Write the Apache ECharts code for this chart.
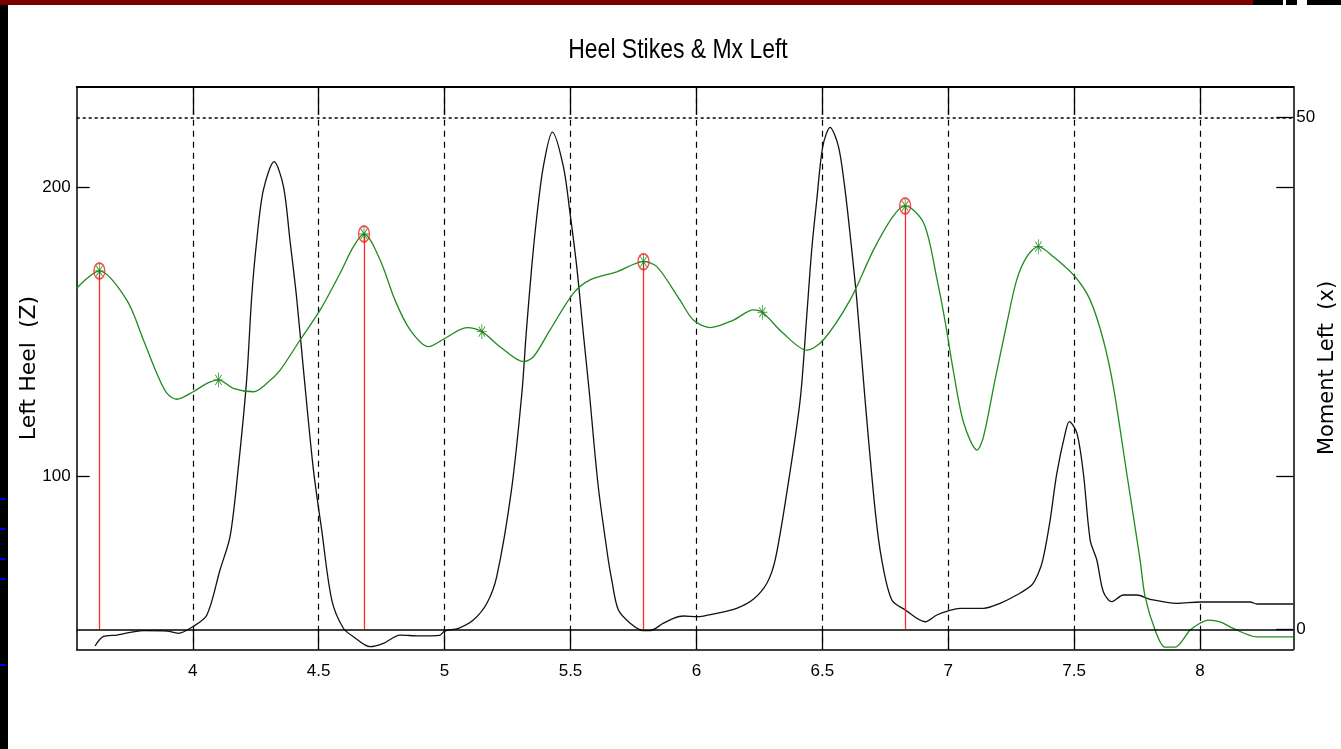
<!DOCTYPE html>
<html>
<head>
<meta charset="utf-8">
<script src="https://cdn.jsdelivr.net/npm/echarts@6/dist/echarts.min.js"></script>
<style>
html,body{margin:0;padding:0;background:#fff;}
#chart{width:1341px;height:749px;}
</style>
</head>
<body>
<div id="chart"></div>
<script>
// ---- data ----
const titleText = 'Heel Stikes & Mx Left';
const leftAxisName = 'Left Heel  (Z)';
const rightAxisName = 'Moment Left  (x)';
const xTicks = [4, 4.5, 5, 5.5, 6, 6.5, 7, 7.5, 8];
const leftTicks = [100, 200];
const rightTicks = [0, 50];

// Moment Left (x) — black curve, right axis
const momentT = [3.612,3.644,3.699,3.803,3.898,3.942,4.0,4.056,4.108,4.148,4.18,4.214,4.234,4.254,4.28,4.323,4.36,4.386,4.412,4.439,4.479,4.512,4.552,4.598,4.638,4.704,4.757,4.823,4.9,4.98,5.0,5.055,5.114,5.168,5.207,5.265,5.307,5.324,5.346,5.366,5.392,5.428,5.472,5.498,5.525,5.551,5.575,5.61,5.65,5.664,5.69,5.737,5.79,5.816,5.869,5.909,5.948,6.002,6.081,6.16,6.226,6.28,6.313,6.36,6.412,6.438,6.458,6.478,6.502,6.531,6.564,6.587,6.61,6.637,6.67,6.71,6.736,6.776,6.829,6.908,6.955,7.0,7.047,7.14,7.206,7.272,7.332,7.358,7.376,7.405,7.431,7.465,7.481,7.511,7.537,7.564,7.59,7.616,7.65,7.696,7.749,7.802,7.908,8.0,8.199,8.226,8.37];
const momentMx = [-1.63,-0.72,-0.56,-0.13,-0.17,-0.39,0.25,1.4,5.8,9.05,15.6,24.4,32.5,38.0,42.9,45.7,43.3,38.0,32.5,25.5,15.6,9.7,2.86,0.1,-0.72,-1.7,-1.37,-0.56,-0.65,-0.6,-0.17,0.1,0.9,2.54,5.14,13.5,23.1,28.9,35.4,40.3,45.2,48.6,45.2,40.7,35.4,28.9,23.1,14.0,6.8,4.8,1.9,0.6,-0.13,-0.13,0.6,1.07,1.3,1.23,1.56,2.05,2.93,4.5,6.8,13.5,22.4,30.55,37.1,41.96,47.2,49.06,47.2,43.6,38.7,32.2,22.4,11.6,6.8,2.86,1.9,0.74,1.4,1.8,2.05,2.05,2.54,3.35,4.33,5.47,6.8,10.7,15.2,19.2,20.3,19.2,15.2,8.7,6.8,3.67,2.7,3.35,3.35,2.93,2.54,2.67,2.67,2.47,2.47];

// Left Heel (Z) — green curve, left axis
const heelCurveT = [3.539,3.629,3.738,3.804,3.857,3.897,3.936,4.002,4.056,4.102,4.161,4.241,4.294,4.347,4.426,4.506,4.585,4.638,4.68,4.744,4.803,4.863,4.936,5.002,5.088,5.148,5.22,5.313,5.353,5.419,5.512,5.578,5.684,5.79,5.843,5.935,5.988,6.054,6.147,6.226,6.262,6.345,6.438,6.504,6.61,6.703,6.78,6.829,6.903,6.956,6.989,7.022,7.062,7.115,7.14,7.186,7.233,7.272,7.312,7.358,7.418,7.504,7.564,7.616,7.656,7.709,7.762,7.782,7.822,7.861,7.901,7.96,8.0,8.033,8.08,8.132,8.226,8.37];
const heelCurveZ = [165.2,171.2,161.1,147.3,135.8,128.9,126.8,129.4,132.3,133.5,130.6,129.4,132.3,136.9,147.3,157.7,170.4,179.6,184.0,175.0,161.1,150.8,145.0,147.9,151.6,150.2,145.0,139.8,141.5,150.8,163.5,168.1,170.9,174.4,172.7,161.1,154.2,151.6,154.2,157.7,156.9,149.6,143.8,147.3,161.1,178.4,190.0,193.7,187.7,168.1,153.1,135.8,118.5,109.2,113.8,133.5,153.1,168.1,176.1,179.6,176.1,169.2,161.1,147.3,131.1,101.2,71.2,58.5,46.9,41.0,41.0,46.9,49.3,50.4,49.8,47.5,44.6,44.6];

// Heel strikes (red circle + star + red stem)
const strikeT = [3.629, 4.68, 5.79, 6.829];
const strikeZ = [171.2, 184.0, 174.4, 193.7];
// Other detected points (star only)
const starT = [4.102, 5.148, 6.262, 7.358];
const starZ = [133.5, 150.2, 156.9, 179.6];

// ---- axis ranges (from picture) ----
const xMin = 3.539, xMax = 8.3705;
const lMin = 40.28, lMax = 234.95;
const rMin = -1.955, rMax = 53.03;
const stemBase = lMin + (0 - rMin) / (rMax - rMin) * (lMax - lMin); // right-axis zero in left units

const zip = (a, b) => a.map((v, i) => [v, b[i]]);
const sans = "'Liberation Sans', Arial, sans-serif";
const green = '#1c8c1c';
const starPath = 'path://M4.6,0 L5.4,0 L5.4,14 L4.6,14 Z M0,6.6 L10,6.6 L10,7.4 L0,7.4 Z M1.5,2.5 L2.2,2 L8.5,11.5 L7.8,12 Z M2.2,12 L1.5,11.5 L7.8,2 L8.5,2.5 Z';

const chart = echarts.init(document.getElementById('chart'), null, {renderer: 'canvas'});
const axisFont = {fontFamily: sans, fontSize: 17, color: '#000'};

chart.setOption({
  backgroundColor: '#fff',
  animation: false,
  grid: {left: 76.7, right: 47.7, top: 86.7, bottom: 99.7, containLabel: false, outerBoundsMode: 'none'},
  xAxis: [{
    type: 'value', position: 'bottom', min: xMin, max: xMax,
    axisLine: {show: true, onZero: false, lineStyle: {color: '#000', width: 1.5}},
    axisTick: {show: true, inside: true, length: 20, customValues: xTicks, lineStyle: {color: '#000', width: 1.3}},
    axisLabel: Object.assign({customValues: xTicks, margin: 14, formatter: v => String(v)}, axisFont),
    splitLine: {show: true, lineStyle: {color: '#000', type: [6, 5], width: 1.2}}
  }, {
    type: 'value', position: 'top', min: xMin, max: xMax,
    axisLine: {show: true, onZero: false, lineStyle: {color: '#000', width: 1.8}},
    axisTick: {show: true, inside: true, length: 28, customValues: xTicks, lineStyle: {color: '#000', width: 1.3}},
    axisLabel: {show: false},
    splitLine: {show: false}
  }],
  yAxis: [{
    type: 'value', position: 'left', min: lMin, max: lMax,
    name: leftAxisName, nameLocation: 'middle', nameRotate: 90, nameGap: 36, nameMoveOverlap: false,
    nameTextStyle: {fontFamily: 'DejaVu Sans', fontSize: 22, color: '#000'},
    axisLine: {show: true, onZero: false, lineStyle: {color: '#000', width: 1.5}},
    axisTick: {show: true, inside: true, length: 13, customValues: leftTicks, lineStyle: {color: '#000', width: 1.3}},
    axisLabel: Object.assign({customValues: leftTicks, margin: 6}, axisFont),
    splitLine: {show: false}
  }, {
    type: 'value', position: 'right', min: rMin, max: rMax,
    name: rightAxisName, nameLocation: 'middle', nameRotate: 90, nameGap: 24, nameMoveOverlap: false,
    nameTextStyle: {fontFamily: 'DejaVu Sans', fontSize: 21, color: '#000'},
    axisLine: {show: true, onZero: false, lineStyle: {color: '#000', width: 1.5}},
    axisTick: {show: true, inside: true, length: 17, customValues: rightTicks, lineStyle: {color: '#000', width: 1.3}},
    axisLabel: Object.assign({customValues: rightTicks, margin: 3}, axisFont),
    splitLine: {show: false}
  }, {
    type: 'value', position: 'right', min: lMin, max: lMax,
    axisLine: {show: false},
    axisTick: {show: true, inside: true, length: 17, customValues: leftTicks, lineStyle: {color: '#000', width: 1.3}},
    axisLabel: {show: false},
    splitLine: {show: false}
  }],
  graphic: [
    {type: 'text', x: 678, y: 50, scaleX: 0.82, z: 100,
     style: {text: titleText, fontFamily: sans, fontSize: 28, fill: '#000', align: 'center', verticalAlign: 'middle'}},
    {type: 'rect', shape: {x: 0, y: 0, width: 1253, height: 5}, style: {fill: '#7a0000'}, z: 100},
    {type: 'rect', shape: {x: 1253, y: 0, width: 30, height: 5}, style: {fill: '#000'}, z: 100},
    {type: 'rect', shape: {x: 1286, y: 0, width: 11, height: 5}, style: {fill: '#000'}, z: 100},
    {type: 'rect', shape: {x: 1307, y: 0, width: 34, height: 5}, style: {fill: '#000'}, z: 100},
    {type: 'rect', shape: {x: 0, y: 5, width: 8, height: 744}, style: {fill: '#000'}, z: 100},
    {type: 'rect', shape: {x: 0, y: 498, width: 6, height: 2}, style: {fill: '#0000ee'}, z: 101},
    {type: 'rect', shape: {x: 0, y: 528, width: 6, height: 2}, style: {fill: '#0000ee'}, z: 101},
    {type: 'rect', shape: {x: 0, y: 558, width: 6, height: 2}, style: {fill: '#0000ee'}, z: 101},
    {type: 'rect', shape: {x: 0, y: 578, width: 6, height: 2}, style: {fill: '#0000ee'}, z: 101},
    {type: 'rect', shape: {x: 0, y: 664, width: 6, height: 2}, style: {fill: '#0000ee'}, z: 101}
  ],
  series: [{
    name: 'Moment Left', type: 'line', xAxisIndex: 0, yAxisIndex: 1,
    data: zip(momentT, momentMx), smooth: 0.3, showSymbol: false,
    lineStyle: {color: '#111', width: 1.3}, z: 3,
    markLine: {
      silent: true, symbol: 'none', label: {show: false}, animation: false,
      data: [
        {yAxis: rightTicks[0], lineStyle: {color: '#000', width: 1.5, type: 'solid'}},
        {yAxis: rightTicks[1], lineStyle: {color: '#000', width: 1.5, type: [3, 3]}}
      ]
    }
  }, {
    name: 'Left Heel', type: 'line', xAxisIndex: 0, yAxisIndex: 0,
    data: zip(heelCurveT, heelCurveZ), smooth: 0.3, showSymbol: false,
    lineStyle: {color: green, width: 1.3}, z: 4,
    markLine: {
      silent: true, symbol: 'none', label: {show: false}, animation: false,
      lineStyle: {color: '#ff2a2a', width: 1.3, type: 'solid'},
      data: strikeT.map((t, i) => [{coord: [t, strikeZ[i]]}, {coord: [t, stemBase]}])
    }
  }, {
    name: 'Strike circles', type: 'scatter', xAxisIndex: 0, yAxisIndex: 0,
    data: zip(strikeT, strikeZ), symbol: 'circle', symbolSize: [11, 16],
    itemStyle: {color: 'rgba(0,0,0,0)', borderColor: '#ff2020', borderWidth: 1.6}, z: 5
  }, {
    name: 'Strike stars', type: 'scatter', xAxisIndex: 0, yAxisIndex: 0,
    data: zip(strikeT, strikeZ).concat(zip(starT, starZ)), symbol: starPath, symbolSize: [10, 15],
    itemStyle: {color: '#0a7a0a'}, z: 6
  }]
});
</script>
</body>
</html>
